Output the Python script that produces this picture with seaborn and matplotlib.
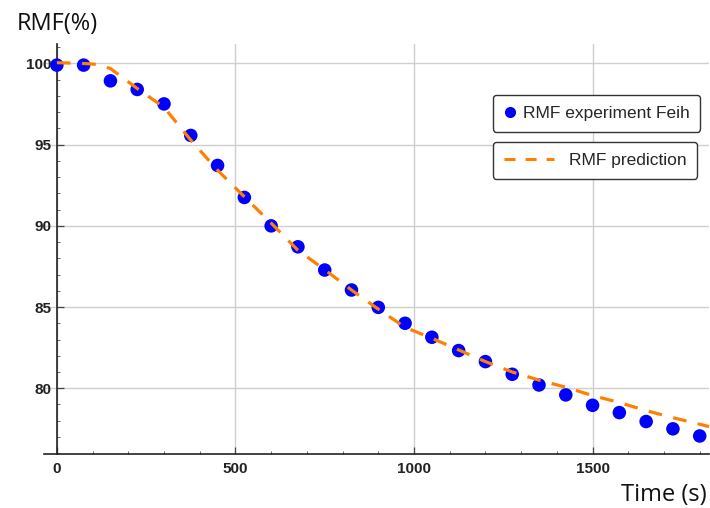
import matplotlib
matplotlib.use("Agg")
import matplotlib.pyplot as plt
from matplotlib.ticker import MultipleLocator, FixedLocator
from matplotlib.lines import Line2D
import seaborn as sns
import pandas as pd

# ---- data ----
exp_time = [0, 75, 150, 225, 300, 375, 450, 525, 600, 675, 750, 825, 900,
            975, 1050, 1125, 1200, 1275, 1350, 1425, 1500, 1575, 1650, 1725, 1800]
exp_rmf = [99.9, 99.9, 98.93, 98.4, 97.51, 95.57, 93.72, 91.75, 90.0, 88.71,
           87.28, 86.05, 84.98, 84.0, 83.14, 82.32, 81.64, 80.86, 80.2, 79.59,
           78.95, 78.5, 77.95, 77.5, 77.06]

pred_time = [0, 75, 110, 150, 225, 300, 375, 450, 525, 600, 675, 750, 825, 900,
             975, 1050, 1125, 1200, 1275, 1350, 1425, 1500, 1575, 1650, 1725,
             1800, 1826]
pred_rmf = [100.05, 100.0, 99.95, 99.69, 98.46, 97.3, 95.28, 93.43, 91.79, 90.17,
            88.5, 87.3, 86.05, 84.87, 83.75, 83.08, 82.36, 81.64, 81.0, 80.5,
            80.06, 79.55, 79.12, 78.62, 78.19, 77.78, 77.64]

x_ticks = [0, 500, 1000, 1500]
y_ticks = [80, 85, 90, 95, 100]
exp_label = "RMF experiment Feih"
pred_label = "RMF prediction"

df_exp = pd.DataFrame({"t": exp_time, "rmf": exp_rmf})
df_pred = pd.DataFrame({"t": pred_time, "rmf": pred_rmf})

sns.set_theme(style="white")
plt.rcParams["font.family"] = ["Liberation Sans", "DejaVu Sans"]

fig = plt.figure(figsize=(7.1, 5.08), dpi=100)
ax = fig.add_axes([44 / 710, 1 - 454 / 508, 665 / 710, 410 / 508])

blue = "#0000ff"
orange = "#ff8000"

sns.scatterplot(data=df_exp, x="t", y="rmf", ax=ax, color=blue, s=95,
                edgecolor="none", zorder=3, legend=False)
sns.lineplot(data=df_pred, x="t", y="rmf", ax=ax, color=orange, lw=2.3,
             zorder=4, legend=False)
ax.lines[-1].set_dashes((4.3, 3.6))

ax.set_xlim(-36, 1826)
ax.set_ylim(75.95, 101.2)

ax.xaxis.set_major_locator(FixedLocator(x_ticks))
ax.yaxis.set_major_locator(FixedLocator(y_ticks))
ax.xaxis.set_minor_locator(MultipleLocator(100))
ax.yaxis.set_minor_locator(MultipleLocator(1))

ax.grid(True, which="major", color="#cfcfcf", lw=1.0, zorder=0)
ax.set_axisbelow(True)

for s in ["top", "right"]:
    ax.spines[s].set_visible(False)
ax.spines["left"].set_position(("data", 0))
ax.spines["left"].set_color("#222222")
ax.spines["bottom"].set_color("#222222")
ax.spines["left"].set_linewidth(1.2)
ax.spines["bottom"].set_linewidth(1.2)

ax.tick_params(which="major", direction="in", length=5, width=0.9,
               color="#444444", labelsize=11, pad=6)
ax.tick_params(which="minor", direction="in", length=2.5, width=0.7,
               color="#666666")
ax.tick_params(axis="x", which="both", bottom=True)
ax.tick_params(axis="y", which="both", left=True)
ax.tick_params(axis="x", pad=6)
ax.tick_params(axis="y", pad=4)
for lab in ax.get_xticklabels() + ax.get_yticklabels():
    lab.set_fontweight("bold")
    lab.set_color("#222222")

ax.set_xlabel("Time (s)", fontsize=17, family=["Open Sans", "DejaVu Sans"],
              color="#111111")
ax.xaxis.set_label_coords(0.997, -0.1)
ax.xaxis.label.set_ha("right")
ax.xaxis.label.set_va("center")
ax.set_ylabel("RMF(%)", fontsize=17, family=["Open Sans", "DejaVu Sans"],
              rotation=0, color="#111111")
ax.yaxis.set_label_coords(0.0195, 1.05)
ax.yaxis.label.set_ha("center")
ax.yaxis.label.set_va("center")

h1 = Line2D([], [], ls="none", marker="o", color=blue, markersize=7)
h2 = Line2D([], [], color=orange, lw=2.2, dashes=(3.6, 3.3))
leg1 = ax.legend([h1], [exp_label], loc="upper left",
                 bbox_to_anchor=(0.675, 0.8756), fontsize=12.5,
                 handlelength=0.7, handletextpad=0.4, borderpad=0.62,
                 borderaxespad=0, fancybox=True, framealpha=1,
                 edgecolor="#333333")
leg1.get_frame().set_linewidth(1.0)
ax.add_artist(leg1)
leg2 = ax.legend([h2], [pred_label], loc="upper left",
                 bbox_to_anchor=(0.675, 0.761), fontsize=12.5,
                 handlelength=2.9, handletextpad=0.86, borderpad=0.62,
                 borderaxespad=0, fancybox=True, framealpha=1,
                 edgecolor="#333333")
leg2.get_frame().set_linewidth(1.0)

fig.savefig("out.png", dpi=100)
